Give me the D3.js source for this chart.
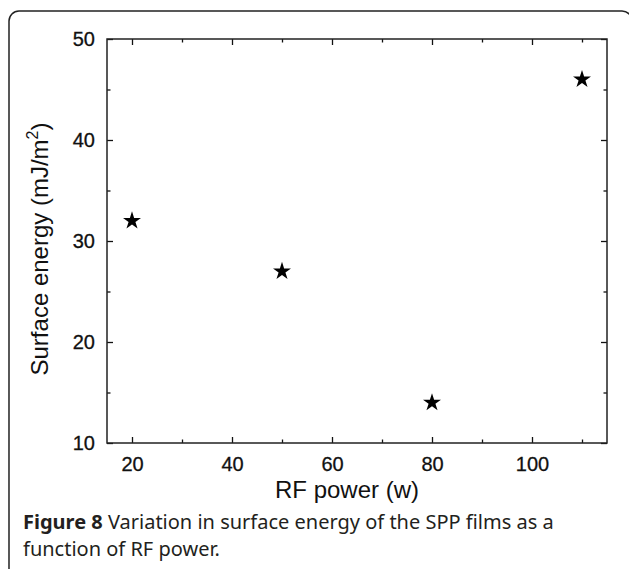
<!DOCTYPE html>
<html>
<head>
<meta charset="utf-8">
<script src="https://cdn.jsdelivr.net/npm/d3@7"></script>
<style>
  body { margin: 0; background: #fff; }
  svg { display: block; }
</style>
</head>
<body>
<div id="chart"></div>
<script>
// RF power (w) vs surface energy (mJ/m^2)
let rfPower = [20, 50, 80, 110]
let surfaceEnergy = [32, 27, 14, 46]
let xTicks = [20, 40, 60, 80, 100]
let xMinorTicks = [30, 50, 70, 90, 110]
let yTicks = [10, 20, 30, 40, 50]
let yMinorTicks = [15, 25, 35, 45]
let captionBold = 'Figure 8'
let captionLines = [' Variation in surface energy of the SPP films as a', 'function of RF power.']

let width = 629
let height = 569
let margin = { top: 39, left: 107, right: 22, bottom: 126 }

let svg = d3
  .select('#chart')
  .append('svg')
  .attr('width', width)
  .attr('height', height)

// rounded frame around the figure
svg
  .append('rect')
  .attr('x', 9)
  .attr('y', 11)
  .attr('width', 623)
  .attr('height', 620)
  .attr('rx', 10)
  .attr('fill', 'none')
  .attr('stroke', '#222')
  .attr('stroke-width', 1.5)

let xPositionScale = d3
  .scaleLinear()
  .domain([15, 115])
  .range([margin.left, width - margin.right])
let yPositionScale = d3
  .scaleLinear()
  .domain([10, 50])
  .range([height - margin.bottom, margin.top])

let plotW = width - margin.right - margin.left
let plotH = height - margin.bottom - margin.top

function styleAxis(g) {
  g.select('.domain').remove()
  g.selectAll('.tick line').attr('stroke', '#111').attr('stroke-width', 1.3)
  g.selectAll('.tick text')
    .attr('fill', '#111')
    .attr('stroke', '#111')
    .attr('stroke-width', 0.3)
    .style('font-family', 'Liberation Sans, Arial, sans-serif')
    .style('font-size', '20px')
}

// bottom axis, ticks point inward
let bottomAxis = svg
  .append('g')
  .attr('transform', `translate(0, ${height - margin.bottom})`)
bottomAxis
  .append('g')
  .call(d3.axisBottom(xPositionScale).tickValues(xTicks).tickSizeInner(-6).tickSizeOuter(0).tickPadding(14))
  .call(styleAxis)
bottomAxis
  .append('g')
  .call(d3.axisBottom(xPositionScale).tickValues(xMinorTicks).tickSizeInner(-3.5).tickSizeOuter(0).tickFormat(''))
  .call(styleAxis)

// top mirror
let topAxis = svg.append('g').attr('transform', `translate(0, ${margin.top})`)
topAxis
  .append('g')
  .call(d3.axisTop(xPositionScale).tickValues(xTicks).tickSizeInner(-6).tickSizeOuter(0).tickFormat(''))
  .call(styleAxis)
topAxis
  .append('g')
  .call(d3.axisTop(xPositionScale).tickValues(xMinorTicks).tickSizeInner(-3.5).tickSizeOuter(0).tickFormat(''))
  .call(styleAxis)

// left axis
let leftAxis = svg.append('g').attr('transform', `translate(${margin.left}, 0)`)
leftAxis
  .append('g')
  .call(d3.axisLeft(yPositionScale).tickValues(yTicks).tickSizeInner(-6).tickSizeOuter(0).tickPadding(12))
  .call(styleAxis)
leftAxis
  .append('g')
  .call(d3.axisLeft(yPositionScale).tickValues(yMinorTicks).tickSizeInner(-3.5).tickSizeOuter(0).tickFormat(''))
  .call(styleAxis)

// right mirror
let rightAxis = svg.append('g').attr('transform', `translate(${width - margin.right}, 0)`)
rightAxis
  .append('g')
  .call(d3.axisRight(yPositionScale).tickValues(yTicks).tickSizeInner(-6).tickSizeOuter(0).tickFormat(''))
  .call(styleAxis)
rightAxis
  .append('g')
  .call(d3.axisRight(yPositionScale).tickValues(yMinorTicks).tickSizeInner(-3.5).tickSizeOuter(0).tickFormat(''))
  .call(styleAxis)

// plot frame
svg
  .append('rect')
  .attr('x', margin.left)
  .attr('y', margin.top)
  .attr('width', plotW)
  .attr('height', plotH)
  .attr('fill', 'none')
  .attr('stroke', '#222')
  .attr('stroke-width', 1.5)

// star markers
let datapoints = rfPower.map((d, i) => ({ power: d, energy: surfaceEnergy[i] }))
let star = d3.symbol().type(d3.symbolStar).size(100)
svg
  .selectAll('.point')
  .data(datapoints)
  .enter()
  .append('path')
  .attr('class', 'point')
  .attr('d', star)
  .attr('transform', d => `translate(${xPositionScale(d.power)}, ${yPositionScale(d.energy)})`)
  .attr('fill', '#000')

// axis titles
svg
  .append('text')
  .attr('x', (margin.left + width - margin.right) / 2 - 10)
  .attr('y', 498)
  .attr('text-anchor', 'middle')
  .style('font-family', 'Liberation Sans, Arial, sans-serif')
  .style('font-size', '24px')
  .attr('fill', '#111')
  .text('RF power (w)')

let yLabel = svg
  .append('text')
  .attr('transform', `translate(48, ${(margin.top + height - margin.bottom) / 2 + 8}) rotate(-90)`)
  .attr('text-anchor', 'middle')
  .style('font-family', 'Liberation Sans, Arial, sans-serif')
  .style('font-size', '24px')
  .attr('fill', '#111')
yLabel.append('tspan').text('Surface energy (mJ/m')
yLabel.append('tspan').attr('dy', -10).style('font-size', '16px').text('2')
yLabel.append('tspan').attr('dy', 10).text(')')

// caption
let caption = svg
  .append('g')
  .style('font-family', 'Noto Sans, Open Sans, sans-serif')
  .style('font-size', '20px')
  .attr('fill', '#231f20')
let line1 = caption.append('text').attr('x', 23).attr('y', 529)
line1.append('tspan').style('font-weight', 'bold').text(captionBold)
line1.append('tspan').text(captionLines[0])
caption.append('text').attr('x', 23).attr('y', 556).text(captionLines[1])
</script>
</body>
</html>
